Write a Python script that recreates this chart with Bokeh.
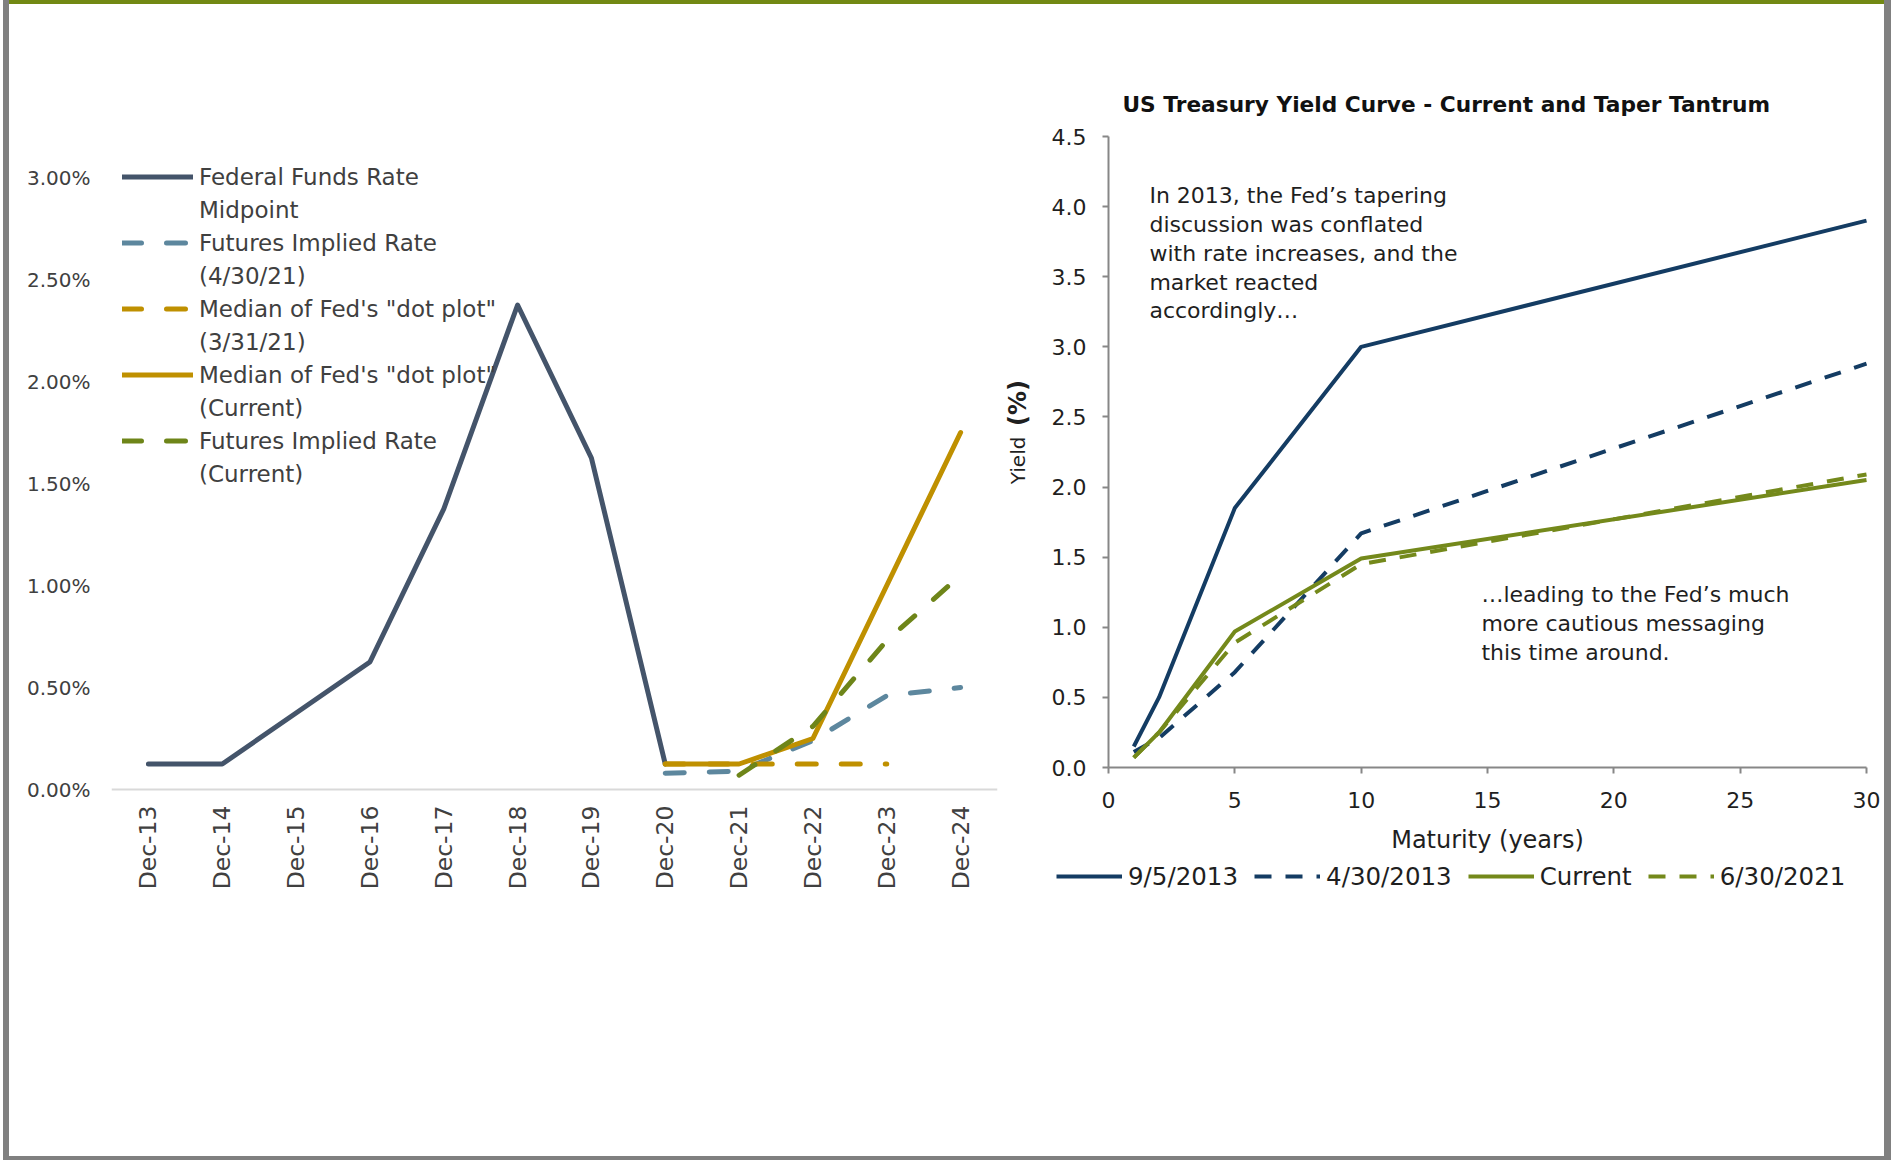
import math
import numpy as np

from bokeh.plotting import figure
from bokeh.layouts import row, column
from bokeh.models import (FactorRange, Range1d, FixedTicker, PrintfTickFormatter,
                          Legend, LegendItem, Label, Spacer)
from bokeh.core.properties import value
from bokeh.embed import file_html
from bokeh.resources import INLINE

FONT = "DejaVu Sans"

# ---------------- policy-rate panel data (percent) ----------------
categories = ["Dec-13", "Dec-14", "Dec-15", "Dec-16", "Dec-17", "Dec-18",
              "Dec-19", "Dec-20", "Dec-21", "Dec-22", "Dec-23", "Dec-24"]
fed_funds_midpoint = [0.125, 0.125, 0.375, 0.625, 1.375, 2.375, 1.625, 0.125,
                      None, None, None, None]
futures_implied_apr21 = [None, None, None, None, None, None, None,
                         0.08, 0.09, 0.24, 0.46, 0.50]
dot_plot_median_mar21 = [None, None, None, None, None, None, None,
                         0.125, 0.125, 0.125, 0.125, None]
dot_plot_median_current = [None, None, None, None, None, None, None,
                           0.125, 0.125, 0.25, 1.00, 1.75]
futures_implied_current = [None, None, None, None, None, None, None, None,
                           0.07, 0.31, 0.73, 1.05]
pct_ticks = [0.0, 0.5, 1.0, 1.5, 2.0, 2.5, 3.0]

# ---------------- treasury curve panel data ----------------
maturities = [1, 2, 5, 10, 30]
yield_sep2013 = [0.15, 0.50, 1.85, 3.00, 3.90]
yield_apr2013 = [0.11, 0.21, 0.68, 1.67, 2.88]
yield_current = [0.07, 0.25, 0.97, 1.49, 2.05]
yield_jun2021 = [0.07, 0.25, 0.89, 1.45, 2.09]
maturity_ticks = [0, 5, 10, 15, 20, 25, 30]
yield_ticks = [0.0, 0.5, 1.0, 1.5, 2.0, 2.5, 3.0, 3.5, 4.0, 4.5]

# colours
C_FFR = "#44546A"
C_STEEL = "#5D879E"
C_GOLD = "#BF9000"
C_OLIVE = "#6E8519"
C_NAVY = "#143C63"
C_GREEN = "#74891B"
C_FRAME = "#808080"
C_TOPBAR = "#728913"
C_TEXT_L = "#404040"
C_TEXT_R = "#1F1F1F"

# Both panels share one canvas height and the same top/bottom borders.
# The plot frames reach past the axes (pinned at zero) so that tick labels
# and legends all sit inside the frame.
PAGE_TOP = 4                      # height of the bar above the panels
CANVAS_H = 1152
TOP_BORDER = 112
BOTTOM_BORDER = 150
FRAME_H = CANVAS_H - TOP_BORDER - BOTTOM_BORDER
FRAME_TOP = PAGE_TOP + TOP_BORDER
FRAME_BOTTOM = FRAME_TOP + FRAME_H

# left panel: zero line and 3% line in page pixels
L_ZERO_Y, L_TOP_Y = 789, 177
L_PX = (L_ZERO_Y - L_TOP_Y) / 3.0
# right panel: zero / 4.5 lines and 0 / 30 year positions in page pixels
R_ZERO_Y, R_TOP_Y = 767, 136
R_PX = (R_ZERO_Y - R_TOP_Y) / 4.5
P2_LEFT, P2_BORDER_L, P2_BORDER_R, P2_W = 1000, 4, 3, 884
R_X0, R_X30 = 1108, 1866
R_XPX = (R_X30 - R_X0) / 30
R_FRAME_L = P2_LEFT + P2_BORDER_L
R_FRAME_R = P2_LEFT + P2_W - P2_BORDER_R


def arr(v):
    return np.array(v, dtype=float)


# ================= left: policy rate paths =================
p1 = figure(width=991, height=CANVAS_H,
            x_range=FactorRange(*categories),
            y_range=Range1d(-(FRAME_BOTTOM - L_ZERO_Y) / L_PX,
                            (L_ZERO_Y - FRAME_TOP) / L_PX),
            output_backend="svg", toolbar_location=None,
            min_border_left=102, min_border_right=3,
            min_border_top=TOP_BORDER, min_border_bottom=BOTTOM_BORDER)
p1.outline_line_color = None
p1.xgrid.visible = False
p1.ygrid.visible = False
p1.border_fill_color = "white"

r_ffr = p1.line(categories, arr(fed_funds_midpoint), line_color=C_FFR, line_width=5,
                line_join="round", line_cap="round")
r_apr = p1.line(categories, arr(futures_implied_apr21), line_color=C_STEEL, line_width=5,
                line_dash="19 25", line_cap="round", line_join="round")
r_mar = p1.line(categories, arr(dot_plot_median_mar21), line_color=C_GOLD, line_width=5,
                line_dash="19 25", line_cap="round", line_join="round")
r_dot = p1.line(categories, arr(dot_plot_median_current), line_color=C_GOLD, line_width=5,
                line_join="round", line_cap="round")
r_fut = p1.line(categories, arr(futures_implied_current), line_color=C_OLIVE, line_width=5,
                line_dash="19 25", line_cap="round", line_join="round")
# invisible renderer carrying the second line of each two-line legend label
r_blank = p1.line(x=[], y=[], line_alpha=0)

left_items = [
    LegendItem(label="Federal Funds Rate", renderers=[r_ffr]),
    LegendItem(label="Midpoint", renderers=[r_blank]),
    LegendItem(label="Futures Implied Rate", renderers=[r_apr]),
    LegendItem(label="(4/30/21)", renderers=[r_blank]),
    LegendItem(label="Median of Fed's \"dot plot\"", renderers=[r_mar]),
    LegendItem(label="(3/31/21)", renderers=[r_blank]),
    LegendItem(label="Median of Fed's \"dot plot\"", renderers=[r_dot]),
    LegendItem(label="(Current)", renderers=[r_blank]),
    LegendItem(label="Futures Implied Rate", renderers=[r_fut]),
    LegendItem(label="(Current)", renderers=[r_blank]),
]
LEG1_ROW = 33
LEG1_TOP = 160
leg1 = Legend(items=left_items,
              location=(11, FRAME_BOTTOM - LEG1_TOP - LEG1_ROW * len(left_items)),
              orientation="vertical",
              padding=0, margin=0, spacing=0, label_height=LEG1_ROW,
              glyph_height=LEG1_ROW, glyph_width=71, label_standoff=6,
              border_line_color=None, background_fill_alpha=0,
              label_text_font=FONT, label_text_font_size="23px",
              label_text_color=C_TEXT_L)
p1.add_layout(leg1)

ya = p1.yaxis[0]
ya.ticker = FixedTicker(ticks=pct_ticks)
ya.formatter = PrintfTickFormatter(format="%.2f%%")
ya.axis_line_color = None
ya.major_tick_line_color = None
ya.minor_tick_line_color = None
ya.major_tick_out = 0
ya.major_tick_in = 0
ya.major_label_standoff = 21
ya.major_label_text_font = FONT
ya.major_label_text_font_size = "20px"
ya.major_label_text_color = C_TEXT_L

xa = p1.xaxis[0]
xa.fixed_location = 0
xa.axis_line_color = "#D9D9D9"
xa.axis_line_width = 2
xa.major_tick_line_color = None
xa.major_tick_out = 0
xa.major_tick_in = 0
xa.major_label_orientation = math.pi / 2
xa.major_label_standoff = 16
xa.major_label_text_font = FONT
xa.major_label_text_font_size = "23.5px"
xa.major_label_text_color = C_TEXT_L

# ================= right: treasury yield curves =================
p2 = figure(width=P2_W, height=CANVAS_H,
            x_range=Range1d(-(R_X0 - R_FRAME_L) / R_XPX,
                            30 + (R_FRAME_R - R_X30) / R_XPX),
            y_range=Range1d(-(FRAME_BOTTOM - R_ZERO_Y) / R_PX,
                            (R_ZERO_Y - FRAME_TOP) / R_PX),
            output_backend="svg", toolbar_location=None,
            min_border_left=P2_BORDER_L, min_border_right=P2_BORDER_R,
            min_border_top=TOP_BORDER, min_border_bottom=BOTTOM_BORDER)
p2.outline_line_color = None
p2.xgrid.visible = False
p2.ygrid.visible = False
p2.border_fill_color = "white"

p2.title.text = "US Treasury Yield Curve - Current and Taper Tantrum"
p2.title.align = "left"
p2.title.offset = 118
p2.title.standoff = 0
p2.title.text_font = FONT
p2.title.text_font_size = "21.7px"
p2.title.text_font_style = "bold"
p2.title.text_color = "#111111"

r_sep = p2.line(maturities, yield_sep2013, line_color=C_NAVY, line_width=4)
r_apr13 = p2.line(maturities, yield_apr2013, line_color=C_NAVY, line_width=4,
                  line_dash="17 14")
r_cur = p2.line(maturities, yield_current, line_color=C_GREEN, line_width=4)
r_jun = p2.line(maturities, yield_jun2021, line_color=C_GREEN, line_width=4,
                line_dash="17 14")

LEG2_TOP, LEG2_ROW = 861, 30
leg2 = Legend(items=[LegendItem(label="9/5/2013", renderers=[r_sep]),
                     LegendItem(label="4/30/2013", renderers=[r_apr13]),
                     LegendItem(label="Current", renderers=[r_cur]),
                     LegendItem(label="6/30/2021", renderers=[r_jun])],
              location=(1056 - R_FRAME_L, FRAME_BOTTOM - LEG2_TOP - LEG2_ROW),
              orientation="horizontal",
              padding=0, margin=0, spacing=16, label_height=LEG2_ROW,
              glyph_height=LEG2_ROW, glyph_width=66, label_standoff=6,
              border_line_color=None, background_fill_alpha=0,
              label_text_font=FONT, label_text_font_size="24.5px",
              label_text_color=C_TEXT_R)
p2.add_layout(leg2)

for ax in (p2.xaxis[0], p2.yaxis[0]):
    ax.fixed_location = 0
    ax.axis_line_color = "#878787"
    ax.axis_line_width = 2
    ax.major_tick_line_color = "#878787"
    ax.major_tick_line_width = 2
    ax.major_tick_out = 6
    ax.major_tick_in = 0
    ax.minor_tick_line_color = None
    ax.major_label_text_font = FONT
    ax.major_label_text_font_size = "22px"
    ax.major_label_text_color = C_TEXT_R
    ax.axis_label_text_font = FONT
    ax.axis_label_text_font_style = "normal"
    ax.axis_label_text_color = C_TEXT_R

p2.xaxis[0].bounds = (0, 30)
p2.xaxis[0].ticker = FixedTicker(ticks=maturity_ticks)
p2.xaxis[0].major_label_standoff = 18
p2.xaxis[0].axis_label = "Maturity (years)"
p2.xaxis[0].axis_label_standoff = 15
p2.xaxis[0].axis_label_text_font_size = "24px"

p2.yaxis[0].bounds = (0, 4.5)
p2.yaxis[0].ticker = FixedTicker(ticks=yield_ticks)
p2.yaxis[0].formatter = PrintfTickFormatter(format="%.1f")
p2.yaxis[0].major_label_standoff = 16

# y-axis title, regular "Yield" and bold "(%)"
p2.add_layout(Label(x=-3.6, y=2.19, text="Yield", angle=math.pi / 2,
                    text_align="center", text_baseline="middle",
                    text_font=FONT, text_font_size="20px", text_color=C_TEXT_R))
p2.add_layout(Label(x=-3.6, y=2.60, text="(%)", angle=math.pi / 2,
                    text_align="center", text_baseline="middle",
                    text_font=FONT, text_font_size="24px", text_font_style="bold",
                    text_color=C_TEXT_R))

# commentary
p2.text(x=[1.62], y=[4.165],
        text=["In 2013, the Fed\u2019s tapering\ndiscussion was conflated\n"
              "with rate increases, and the\nmarket reacted\naccordingly\u2026"],
        text_font=value(FONT), text_font_size="22px", text_color=C_TEXT_R,
        text_align="left", text_baseline="top", text_line_height=1.15)
p2.text(x=[14.76], y=[1.32],
        text=["\u2026leading to the Fed\u2019s much\nmore cautious messaging\n"
              "this time around."],
        text_font=value(FONT), text_font_size="22px", text_color=C_TEXT_R,
        text_align="left", text_baseline="top", text_line_height=1.15)

# ================= page frame =================
frame_gap = Spacer(width=3, height=1160, styles={"background-color": "white"})
frame_left = Spacer(width=6, height=1160, styles={"background-color": C_FRAME})
frame_right = Spacer(width=7, height=1160, styles={"background-color": C_FRAME})
frame_top = Spacer(width=1875, height=PAGE_TOP, styles={"background-color": C_TOPBAR})
frame_bottom = Spacer(width=1875, height=4, styles={"background-color": C_FRAME})

page = row(frame_gap, frame_left,
           column(frame_top, row(p1, p2), frame_bottom),
           frame_right)

open("out.html", "w").write(file_html(page, INLINE))
